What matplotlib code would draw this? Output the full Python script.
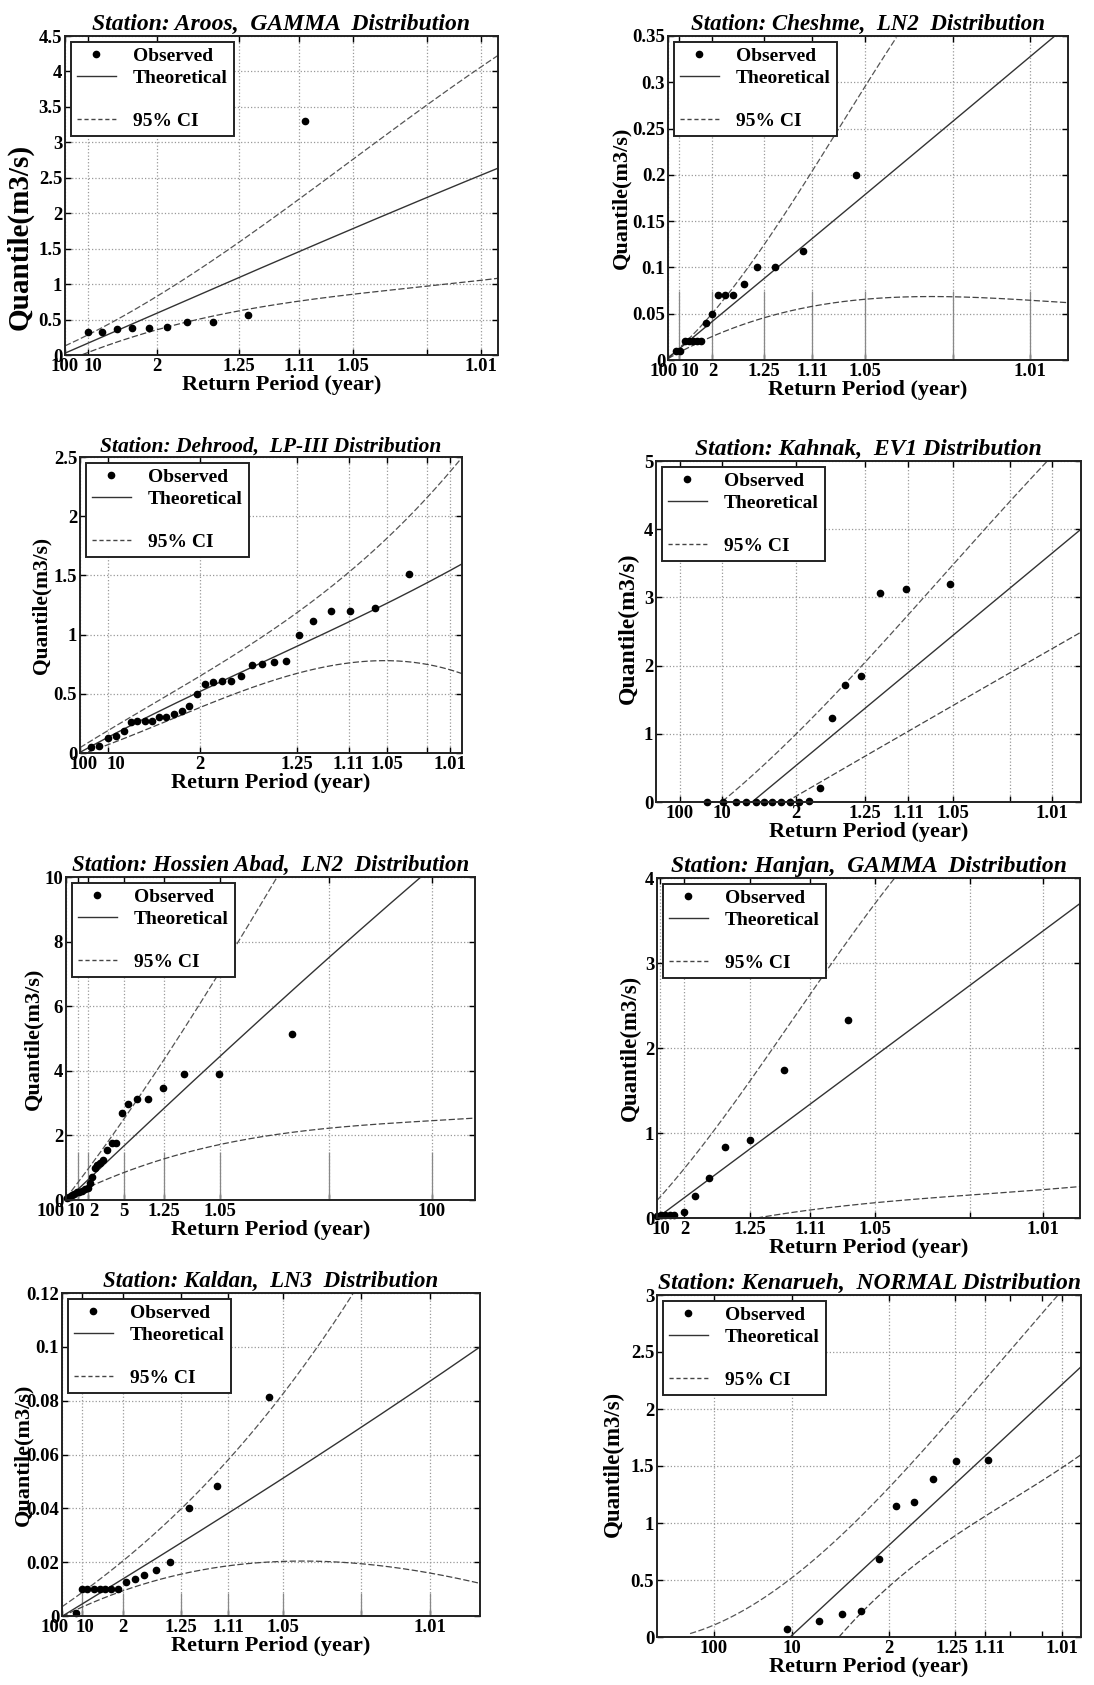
import numpy as np
import matplotlib
matplotlib.use("Agg")
import matplotlib.pyplot as plt
from matplotlib.lines import Line2D
from matplotlib.transforms import ScaledTranslation

plt.rcParams['font.family'] = ['Liberation Serif', 'DejaVu Serif']
plt.rcParams['font.weight'] = 'bold'
plt.rcParams['axes.labelweight'] = 'bold'
plt.rcParams['axes.titleweight'] = 'bold'

W, H = 1094, 1685

# ---- Aroos (GAMMA) ----
aroos_ticks = [0, .052, .213, .402, .541, .665, .835, .96]
aroos_labels = ['100', '10', '2', '1.25', '1.11', '1.05', '', '1.01']
aroos_obs_x = [.052, .086, .121, .155, .193, .235, .282, .341, .422, .554]
aroos_obs_y = [.32, .33, .37, .38, .38, .40, .47, .47, .57, 3.30]
aroos_theo_x = [0, .213, .402, .541, .665, .835, 1.0]
aroos_theo_y = [.03, .58, 1.10, 1.47, 1.78, 2.21, 2.64]
aroos_up_x = [0, .213, .402, .541, .665, .835, 1.0]
aroos_up_y = [.12, .87, 1.53, 2.21, 2.8, 3.5, 4.23]
aroos_lo_x = [.04, .213, .282, .402, .541, .665, .835, 1.0]
aroos_lo_y = [0, .37, .47, .61, .75, .87, .97, 1.08]

# ---- Cheshme (LN2) ----
cheshme_ticks = [0, .0275, .111, .239, .36, .492, .7125, .904]
cheshme_labels = ['100', '10', '2', '1.25', '1.11', '1.05', '', '1.01']
cheshme_obs_x = [.021, .031, .042, .052, .0625, .0725, .083, .096, .111, .126, .143,
                 .163, .189, .223, .2675, .3375, .471]
cheshme_obs_y = [.01, .01, .02, .02, .02, .02, .021, .04, .05, .07, .07, .07, .082,
                 .10, .10, .118, .20]
cheshme_theo_x = [0, .36, .967]
cheshme_theo_y = [.002, .131, .35]
cheshme_up_x = [0, .1125, .2, .279, .354, .425, .504, .571]
cheshme_up_y = [.003, .05, .1, .15, .2, .25, .3, .35]
cheshme_lo_x = [0, .096, .111, .239, .36, .492, .7125, .904, 1.0]
cheshme_lo_y = [.002, .021, .025, .049, .057, .064, .0685, .066, .061]

# ---- Dehrood (LP-III) ----
dehrood_ticks = [0, .074, .313, .568, .703, .803, .908, .968]
dehrood_labels = ['100', '10', '2', '1.25', '1.11', '1.05', '', '1.01']
dehrood_obs_x = [.028, .051, .072, .093, .114, .133, .15, .169, .188, .206, .225, .245,
                 .266, .285, .306, .327, .349, .372, .396, .421, .45, .477, .507, .538,
                 .572, .611, .657, .707, .773, .86]
dehrood_obs_y = [.048, .062, .127, .14, .183, .262, .267, .273, .267, .30, .30, .33,
                 .357, .40, .498, .583, .597, .605, .611, .647, .746, .754, .766, .774,
                 .999, 1.118, 1.196, 1.196, 1.222, 1.515]
dehrood_theo_x = [0, .074, .15, .313, .45, .568, .703, .803, 1.0]
dehrood_theo_y = [0, .14, .27, .5, .72, .92, 1.11, 1.25, 1.6]
dehrood_up_x = [0, .074, .15, .313, .446, .568, .703, .803, .86, .908, 1.0]
dehrood_up_y = [.03, .2, .35, .656, .915, 1.154, 1.506, 1.84, 2.0, 2.18, 2.47]
dehrood_lo_x = [0, .074, .15, .313, .446, .568, .703, .803, .908, 1.0]
dehrood_lo_y = [0, .056, .155, .394, .549, .684, .752, .774, .746, .676]

# ---- Kahnak (EV1) ----
kahnak_ticks = [.056, .156, .329, .491, .593, .698, .832, .932]
kahnak_labels = ['100', '10', '2', '1.25', '1.11', '1.05', '', '1.01']
kahnak_obs_x = [.121, .157, .188, .211, .235, .254, .274, .294, .316, .337, .36, .385,
                .413, .444, .482, .526, .589, .692]
kahnak_obs_y = [0, 0, 0, 0, 0, 0, 0, 0, 0, 0, .02, .205, 1.23, 1.71, 1.85, 3.07,
                3.12, 3.19]
kahnak_theo_x = [.226, 1.0]
kahnak_theo_y = [0, 4.0]
kahnak_up_x = [.156, .324, .498, .618, .778, .92]
kahnak_up_y = [0, 1.0, 2.0, 3.0, 4.0, 5.0]
kahnak_lo_x = [.306, .65, 1.0]
kahnak_lo_y = [0, 1.24, 2.49]

# ---- Hossien Abad (LN2) ----
hossien_ticks = [0, .03, .055, .141, .24, .377, .642, .894]
hossien_labels = ['100', '10', '2', '5', '1.25', '1.05', '', '100']
hossien_obs_x = [.002, .008, .014, .02, .027, .033, .04, .046, .053, .058, .063, .07,
                 .076, .082, .09, .1, .112, .123, .137, .152, .174, .2, .237, .289,
                 .373, .553]
hossien_obs_y = [.05, .1, .15, .2, .26, .26, .29, .33, .38, .52, .72, .98, 1.08, 1.16,
                 1.24, 1.55, 1.75, 1.77, 2.7, 2.96, 3.12, 3.12, 3.48, 3.89, 3.89, 5.13]
hossien_theo_x = [0, .174, .335, .507, .692, .866]
hossien_theo_y = [0, 2.0, 4.0, 6.0, 8.0, 10.0]
hossien_up_x = [0, .054, .107, .23, .323, .417, .518]
hossien_up_y = [0, 1.0, 2.0, 4.0, 6.0, 8.0, 10.0]
hossien_lo_x = [0, .051, .149, .24, .381, .638, .89, 1.0]
hossien_lo_y = [0, .46, .88, 1.25, 1.73, 2.22, 2.46, 2.53]

# ---- Hanjan (GAMMA) ----
hanjan_ticks = [.008, .065, .219, .362, .516, .739, .913]
hanjan_labels = ['10', '2', '1.25', '1.11', '1.05', '', '1.01']
hanjan_obs_x = [0, .009, .02, .03, .04, .065, .091, .123, .161, .219, .301, .451]
hanjan_obs_y = [.02, .04, .04, .04, .04, .067, .255, .47, .835, .92, 1.74, 2.33]
hanjan_theo_x = [0, 1.0]
hanjan_theo_y = [0, 3.70]
hanjan_up_x = [0, .065, .219, .4, .561]
hanjan_up_y = [.235, .53, 1.65, 2.88, 4.0]
hanjan_lo_x = [.236, .516, .739, 1.0]
hanjan_lo_y = [0, .18, .27, .37]

# ---- Kaldan (LN3) ----
kaldan_ticks = [0, .048, .146, .285, .398, .528, .716, .88]
kaldan_labels = ['100', '10', '2', '1.25', '1.11', '1.05', '', '1.01']
kaldan_obs_x = [.034, .048, .061, .076, .09, .104, .118, .135, .153, .175, .197, .224,
                .259, .304, .372, .495]
kaldan_obs_y = [.0011, .0102, .0102, .0102, .0102, .0102, .0102, .0102, .0127, .0139,
                .0154, .017, .0199, .04, .0483, .0813]
kaldan_theo_x = [0, .146, .398, .716, 1.0]
kaldan_theo_y = [0, .0135, .0385, .07, .1]
kaldan_up_x = [0, .146, .285, .398, .528, .697]
kaldan_up_y = [.0034, .0207, .0393, .0586, .0822, .12]
kaldan_lo_x = [0, .048, .146, .285, .398, .528, .61, .716, .88, 1.0]
kaldan_lo_y = [0, .0034, .0087, .0158, .0186, .0206, .0207, .0189, .0158, .0123]

# ---- Kenarueh (NORMAL) ----
kenarueh_ticks = [.134, .318, .546, .704, .774, .955]
kenarueh_labels = ['100', '10', '2', '1.25', '1.11', '1.01']
kenarueh_obs_x = [.307, .383, .436, .482, .523, .564, .605, .651, .705, .78]
kenarueh_obs_y = [.073, .138, .205, .228, .682, 1.15, 1.185, 1.39, 1.545, 1.557]
kenarueh_theo_x = [.314, 1.0]
kenarueh_theo_y = [0, 2.37]
kenarueh_up_x = [.078, .134, .31, .48, .549, .632, .747, .825, .947]
kenarueh_up_y = [0, .135, .53, 1.01, 1.29, 1.67, 2.17, 2.49, 2.99]
kenarueh_lo_x = [.429, .556, .747, .862, 1.0]
kenarueh_lo_y = [0, .47, 1.0, 1.26, 1.6]


def curve(x, y):
    # smooth low-order fit through the read points
    if len(x) < 3:
        return x, y
    c = np.polyfit(x, y, min(3, len(x) - 1))
    xs = np.linspace(x[0], x[-1], 300)
    return xs, np.polyval(c, xs)


def panel(px, title, ymax, ystep, ticks, labels, obs, theo, up, lo,
          stubs=None, minor=None, shift=None, tsize=16.5, ylab=(None, 0.5, 16)):
    x0, y0, x1, y1 = px
    ax = fig.add_axes([x0 / W, 1 - y1 / H, (x1 - x0) / W, (y1 - y0) / H])
    ax.set_xlim(0, 1)
    ax.set_ylim(0, ymax)
    yt = np.arange(0, ymax + 1e-9, ystep)
    ax.set_yticks(yt)
    ax.set_yticklabels(['%g' % round(v, 4) for v in yt])
    ax.set_xticks(ticks)
    ax.set_xticklabels(labels)
    if minor is not None:
        ax.set_xticks(minor, minor=True)
    ax.grid(True, ls=':', color='#999999', lw=0.9)
    ax.tick_params(direction='in', top=True, right=True, length=4, width=1,
                   labelsize=13.5, pad=2)
    ax.tick_params(which='minor', direction='in', top=True, length=4, width=1)
    # nudge crowded tick labels sideways (pixels)
    if shift:
        lbls = ax.get_xticklabels()
        for k, dx in shift.items():
            lbls[k].set_transform(lbls[k].get_transform()
                                  + ScaledTranslation(dx / 100, 0, fig.dpi_scale_trans))
    for s in ax.spines.values():
        s.set_linewidth(1.4)
        s.set_color('#222222')
    if stubs is not None:
        ax.vlines(ticks[1:], 0, stubs, transform=ax.get_xaxis_transform(),
                  colors='#888888', lw=0.9)
    ax.plot(*curve(*up), ls=(0, (5, 2)), color='#555555', lw=0.9)
    ax.plot(*curve(*lo), ls=(0, (5, 2)), color='#444444', lw=0.9)
    ax.plot(*curve(*theo), color='#333333', lw=1.0)
    ax.plot(obs[0], obs[1], 'o', color='k', ms=4.5, clip_on=False)
    ax.set_title(title, fontsize=tsize, style='italic', pad=4)
    ax.set_xlabel('Return Period (year)', fontsize=16, labelpad=0)
    ax.set_ylabel('Quantile(m3/s)', fontsize=ylab[2])
    if ylab[0] is not None:
        ax.yaxis.set_label_coords((ylab[0] - x0) / (x1 - x0), ylab[1])
    hd = [Line2D([], [], marker='o', ls='none', color='k', ms=4.5),
          Line2D([], [], color='#333333', lw=1),
          Line2D([], [], color='none'),
          Line2D([], [], color='#444444', lw=1, ls=(0, (3, 2)))]
    leg = ax.legend(hd, ['Observed', 'Theoretical', '', '95% CI'], loc='upper left',
                    fancybox=False, framealpha=1, edgecolor='#222222',
                    prop={'size': 14, 'weight': 'bold'}, borderaxespad=0.3,
                    handlelength=2.0, labelspacing=0.2, borderpad=0.3,
                    handletextpad=0.9)
    leg.get_frame().set_linewidth(1.4)
    return ax


fig = plt.figure(figsize=(W / 100, H / 100), dpi=100)

panel((65, 36, 498, 355), 'Station: Aroos,  GAMMA  Distribution', 4.5, 0.5,
      aroos_ticks, aroos_labels, (aroos_obs_x, aroos_obs_y),
      (aroos_theo_x, aroos_theo_y), (aroos_up_x, aroos_up_y), (aroos_lo_x, aroos_lo_y),
      shift={1: 5}, tsize=17, ylab=(34, 0.37, 21))
panel((668, 36, 1068, 360), 'Station: Cheshme,  LN2  Distribution', 0.35, 0.05,
      cheshme_ticks, cheshme_labels, (cheshme_obs_x, cheshme_obs_y),
      (cheshme_theo_x, cheshme_theo_y), (cheshme_up_x, cheshme_up_y),
      (cheshme_lo_x, cheshme_lo_y), stubs=0.214, shift={0: -4, 1: 11},
      ylab=(631, 0.5, 16))
panel((80, 457, 462, 753), 'Station: Dehrood,  LP-III Distribution', 2.5, 0.5,
      dehrood_ticks, dehrood_labels, (dehrood_obs_x, dehrood_obs_y),
      (dehrood_theo_x, dehrood_theo_y), (dehrood_up_x, dehrood_up_y),
      (dehrood_lo_x, dehrood_lo_y), shift={0: 4, 1: 8}, tsize=15.5,
      ylab=(51, 0.5, 15.5))
panel((656, 461, 1081, 802), 'Station: Kahnak,  EV1 Distribution', 5, 1,
      kahnak_ticks, kahnak_labels, (kahnak_obs_x, kahnak_obs_y),
      (kahnak_theo_x, kahnak_theo_y), (kahnak_up_x, kahnak_up_y),
      (kahnak_lo_x, kahnak_lo_y), tsize=17, ylab=(639, 0.51, 17))
panel((66, 877, 475, 1200), 'Station: Hossien Abad,  LN2  Distribution', 10, 2,
      hossien_ticks, hossien_labels, (hossien_obs_x, hossien_obs_y),
      (hossien_theo_x, hossien_theo_y), (hossien_up_x, hossien_up_y),
      (hossien_lo_x, hossien_lo_y), stubs=0.15, shift={0: -15, 1: -2, 2: 5},
      ylab=(43, 0.5, 16))
panel((657, 878, 1080, 1218), 'Station: Hanjan,  GAMMA  Distribution', 4, 1,
      hanjan_ticks, hanjan_labels, (hanjan_obs_x, hanjan_obs_y),
      (hanjan_theo_x, hanjan_theo_y), (hanjan_up_x, hanjan_up_y),
      (hanjan_lo_x, hanjan_lo_y), tsize=17, ylab=(641, 0.5, 16.5))
panel((62, 1293, 480, 1616), 'Station: Kaldan,  LN3  Distribution', 0.12, 0.02,
      kaldan_ticks, kaldan_labels, (kaldan_obs_x, kaldan_obs_y),
      (kaldan_theo_x, kaldan_theo_y), (kaldan_up_x, kaldan_up_y),
      (kaldan_lo_x, kaldan_lo_y), stubs=0.07, shift={0: -7, 1: 3},
      ylab=(33, 0.5, 16))
panel((657, 1295, 1081, 1637), 'Station: Kenarueh,  NORMAL Distribution', 3, 0.5,
      kenarueh_ticks, kenarueh_labels, (kenarueh_obs_x, kenarueh_obs_y),
      (kenarueh_theo_x, kenarueh_theo_y), (kenarueh_up_x, kenarueh_up_y),
      (kenarueh_lo_x, kenarueh_lo_y), minor=[.833, .909], shift={3: -4, 4: 4},
      tsize=17, ylab=(624, 0.505, 16.5))

fig.savefig('out.png', dpi=100)
